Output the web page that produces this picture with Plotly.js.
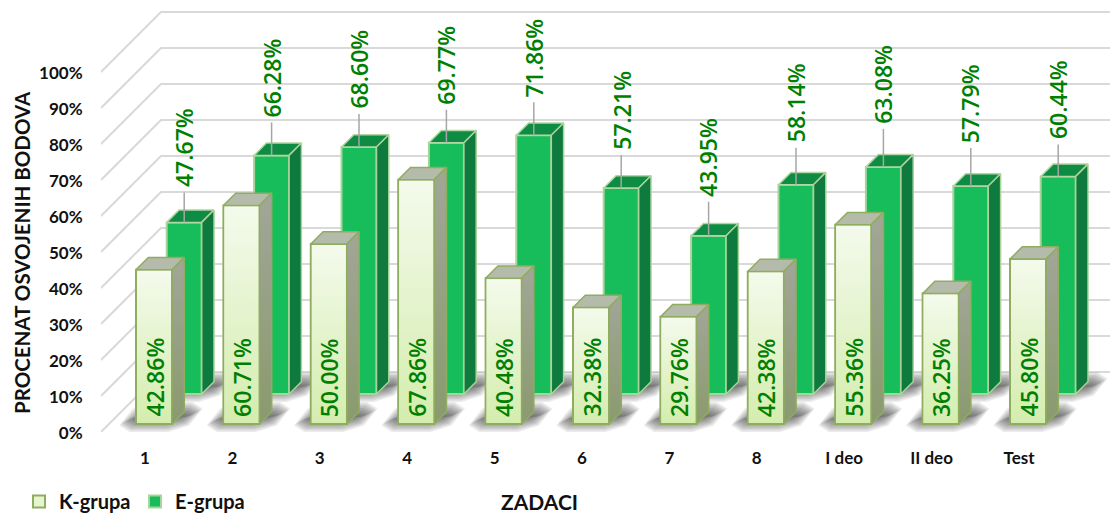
<!DOCTYPE html>
<html>
<head>
<meta charset="utf-8">
<script src="https://cdn.plot.ly/plotly-3.0.1.min.js"></script>
<style>html,body{margin:0;padding:0;background:#fff;overflow:hidden}</style>
</head>
<body>
<div id="chart" style="width:1110px;height:513px"></div>
<script>
const categories = ['1','2','3','4','5','6','7','8','I deo','II deo','Test'];
const kGroup = [42.86,60.71,50.00,67.86,40.48,32.38,29.76,42.38,55.36,36.25,45.80];
const eGroup = [47.67,66.28,68.60,69.77,71.86,57.21,43.95,58.14,63.08,57.79,60.44];
const eLabelGap = [35,38,38,38,38,38,39,42,43,43,37];
const yTicks = [0,10,20,30,40,50,60,70,80,90,100];

// scale of the axes
const W = 1110, H = 513, L = 101, B = 432;
const PX = 87.4, PY = 3.6;
const xRange = [(L-145)/PX, (W-145)/PX];
const yRange = [0, B/PY];
const dx = px => px/PX, dy = px => px/PY;
const depth = 12.3;
const kW = dx(36);
const kStart = dx(136-145), eStart = dx(166.7-145), eW = dx(35);
const kBase = dy(8), eBase = dy(38);
const idx = categories.map((c,i)=>i);

const NAMES = {k:'K-grupa', e:'E-grupa'};
const skip = {hoverinfo:'skip', showlegend:false, type:'scatter', mode:'lines'};
function join(list){
  const xs=[],ys=[];
  list.forEach(p=>{p.forEach(q=>{xs.push(q[0]);ys.push(q[1]);});xs.push(null);ys.push(null);});
  return {x:xs,y:ys};
}
function topFace(x0,w,top){
  return [[x0,top],[x0+w,top],[x0+w+dx(depth),top+dy(depth)],[x0+dx(depth),top+dy(depth)],[x0,top]];
}
function sideFace(x0,w,base,top){
  const r=x0+w;
  return [[r,base],[r+dx(depth),base+dy(depth)],[r+dx(depth),top+dy(depth)],[r,top],[r,base]];
}
// soft floor shadow: a skewed quad with its corners cut, so stacked layers fade out
function shadow(x0,base,e){
  const c=[[x0+dx(-16-e),base-dy(2+e)],[x0+dx(42+e),base-dy(2+e)],
           [x0+dx(66+e),base+dy(16+e)],[x0+dx(8-e),base+dy(16+e)]];
  const out=[], f=0.22;
  c.forEach((p,i)=>{
    const n=c[(i+1)%4], m=c[(i+3)%4];
    out.push([p[0]+(m[0]-p[0])*f, p[1]+(m[1]-p[1])*f]);
    out.push([p[0]+(n[0]-p[0])*f, p[1]+(n[1]-p[1])*f]);
  });
  out.push(out[0]);
  return out;
}

const traces = [];

// visible bars (K first so that the legend reads K, E)
traces.push({type:'bar', name:NAMES.k, xaxis:'x3', yaxis:'y3',
  x:idx.map(i=>i+kStart+kW/2), y:kGroup, base:idx.map(()=>kBase), width:kW,
  marker:{color:'#e6f4cf', line:{color:'#8fad5e', width:2}}, hoverinfo:'skip'});
traces.push({type:'bar', name:NAMES.e, xaxis:'x2', yaxis:'y2',
  x:idx.map(i=>i+eStart+eW/2), y:eGroup, base:idx.map(()=>eBase), width:eW,
  marker:{color:'#17bd5a', line:{color:'#a8d39a', width:2}}, hoverinfo:'skip'});

// back wall, side wall and gridlines
yTicks.forEach(v=>{
  traces.push(Object.assign({},skip,{xaxis:'x',yaxis:'y',
    x:[xRange[0], xRange[0]+dx(60), xRange[1]], y:[v, v+dy(60), v+dy(60)],
    line:{color:'#d9d9d9', width:2}}));
});

// floor shadows
[6,4.5,3,1.5,0,-1.5,-3,-4.5,-6,-7.5].forEach(e=>{
  const list=[];
  idx.forEach(i=>{ list.push(shadow(i+eStart,eBase,e)); list.push(shadow(i+kStart,kBase,e)); });
  traces.push(Object.assign({},skip,join(list),{xaxis:'x',yaxis:'y',fill:'toself',
    fillcolor:'rgba(40,40,40,0.085)', line:{width:0}}));
});

// E-group faces
traces.push(Object.assign({},skip,join(idx.map(i=>topFace(i+eStart,eW,eBase+eGroup[i]))),
  {xaxis:'x2',yaxis:'y2',fill:'toself',fillcolor:'#0f8c43',line:{color:'#b3d6a3',width:1.5}}));
traces.push(Object.assign({},skip,join(idx.map(i=>sideFace(i+eStart,eW,eBase,eBase+eGroup[i]))),
  {xaxis:'x2',yaxis:'y2',fill:'toself',fillcolor:'#0f7a3e',line:{color:'#a8d39a',width:1.5}}));

// K-group faces
traces.push(Object.assign({},skip,join(idx.map(i=>topFace(i+kStart,kW,kBase+kGroup[i]))),
  {xaxis:'x3',yaxis:'y3',fill:'toself',fillcolor:'#b5bbab',line:{color:'#8fad5e',width:1.5}}));
idx.forEach(i=>{
  const p=sideFace(i+kStart,kW,kBase,kBase+kGroup[i]);
  traces.push(Object.assign({},skip,{xaxis:'x3',yaxis:'y3',x:p.map(q=>q[0]),y:p.map(q=>q[1]),
    fill:'toself',fillgradient:{type:'vertical',colorscale:[[0,'#8a9a6e'],[1,'#a2a698']]},
    line:{color:'#8fad5e',width:1.5}}));
  // shading of the front face, kept inside the bar outline
  const a=i+kStart+dx(1), b=i+kStart+kW-dx(1), t=kBase+kGroup[i]-dy(1), u=kBase+dy(1);
  traces.push(Object.assign({},skip,{xaxis:'x3',yaxis:'y3',x:[a,b,b,a,a],y:[u,u,t,t,u],
    fill:'toself',fillgradient:{type:'vertical',colorscale:[[0,'#d4edae'],[1,'#f4faec']]},
    line:{width:0}}));
});

// leader lines from E bars to their labels
traces.push(Object.assign({},skip,join(idx.map(i=>{
  const cx=i+eStart+eW/2, t=eBase+eGroup[i];
  return [[cx,t],[cx,t+dy(eLabelGap[i]-5)]];
})),{xaxis:'x3',yaxis:'y3',line:{color:'#a6a6a6',width:1.5}}));

const fmt = v => v.toFixed(2)+'%';
const lblFont = {family:'"Open Sans", sans-serif', size:23, weight:600, color:'#008000'};
const annotations = [];
idx.forEach(i=>{
  annotations.push({xref:'x',yref:'y',x:i+eStart+eW/2,y:eBase+eGroup[i]+dy(eLabelGap[i]),
    text:fmt(eGroup[i]),textangle:-90,showarrow:false,xanchor:'center',yanchor:'bottom',
    font:lblFont,borderpad:0,borderwidth:0});
  annotations.push({xref:'x',yref:'y',x:i+kStart+kW/2,y:kBase+dy(7),
    text:fmt(kGroup[i]),textangle:-90,showarrow:false,xanchor:'center',yanchor:'bottom',
    font:lblFont,borderpad:0,borderwidth:0});
});
annotations.push({xref:'paper',yref:'paper',x:(539-L)/(W-L),y:(B-501)/B,text:'ZADACI',showarrow:false,
  xanchor:'center',yanchor:'middle',font:{family:'Lato, sans-serif',size:21,weight:700,color:'#111'}});
annotations.push({xref:'paper',yref:'paper',x:(22-L)/(W-L),y:(B-253)/B,text:'PROCENAT OSVOJENIH BODOVA',
  textangle:-90,showarrow:false,xanchor:'center',yanchor:'middle',
  font:{family:'Lato, sans-serif',size:20.5,weight:700,color:'#111'}});

const hidden = {type:'linear', visible:false, showgrid:false, zeroline:false, fixedrange:true};
const layout = {
  width:W, height:H,
  margin:{l:L,r:0,t:0,b:H-B,autoexpand:false},
  paper_bgcolor:'#fff', plot_bgcolor:'rgba(0,0,0,0)',
  barmode:'overlay',
  xaxis:{type:'linear',range:xRange,tickvals:idx,ticktext:categories,showgrid:false,zeroline:false,showline:false,
    ticks:'outside',ticklen:11,tickcolor:'rgba(0,0,0,0)',fixedrange:true,
    tickfont:{family:'Lato, sans-serif',size:17,weight:700,color:'#111'}},
  yaxis:{type:'linear',range:yRange,tickvals:yTicks,ticktext:yTicks.map(v=>v+'%'),showgrid:false,zeroline:false,showline:false,
    ticks:'outside',ticklen:14,tickcolor:'rgba(0,0,0,0)',fixedrange:true,ticklabelshift:1,
    tickfont:{family:'Lato, sans-serif',size:17,weight:700,color:'#111'}},
  xaxis2:Object.assign({},hidden,{range:xRange,overlaying:'x',anchor:'y2'}),
  yaxis2:Object.assign({},hidden,{range:yRange,overlaying:'y',anchor:'x2'}),
  xaxis3:Object.assign({},hidden,{range:xRange,overlaying:'x',anchor:'y3'}),
  yaxis3:Object.assign({},hidden,{range:yRange,overlaying:'y',anchor:'x3'}),
  showlegend:true,
  legend:{orientation:'h',xref:'container',yref:'container',x:19/W,y:31/H,xanchor:'left',yanchor:'top',
    entrywidthmode:'pixels',entrywidth:71,
    bgcolor:'rgba(0,0,0,0)',borderwidth:0,traceorder:'normal',
    font:{family:'Lato, sans-serif',size:20,weight:700,color:'#111'}},
  annotations:annotations
};
Plotly.newPlot('chart',traces,layout,{displayModeBar:false,staticPlot:true});
</script>
</body>
</html>
